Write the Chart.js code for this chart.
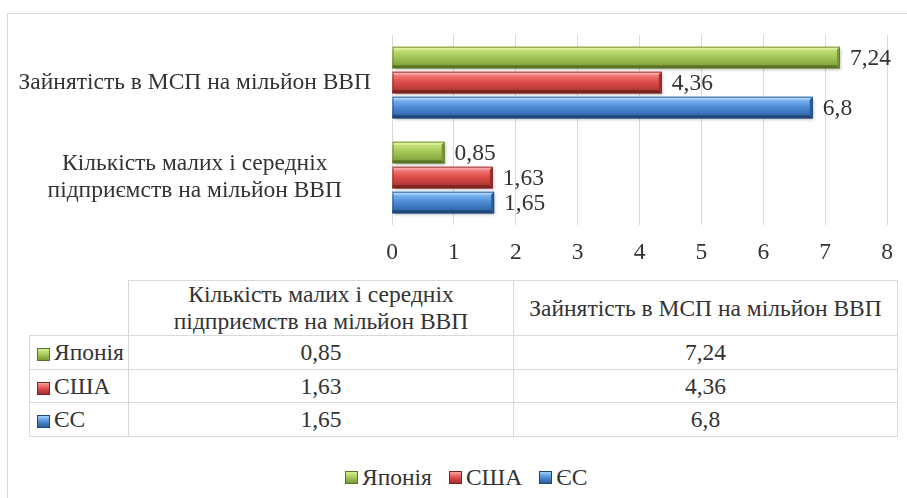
<!DOCTYPE html>
<html><head><meta charset="utf-8">
<script src="https://cdn.jsdelivr.net/npm/chart.js@4.4.1/dist/chart.umd.min.js"></script>
<style>
html,body{margin:0;padding:0;background:#fff;}
body{width:907px;height:498px;position:relative;overflow:hidden;font-family:'Liberation Serif';color:#333;}
#frame{position:absolute;left:7px;top:13px;width:960px;height:560px;border:1px solid #d9d9d9;box-sizing:border-box;}
#wrap{position:absolute;left:0;top:0;width:907px;height:275px;}
#tbl{position:absolute;left:29px;top:280px;border-collapse:collapse;table-layout:fixed;font-family:'Liberation Serif';font-size:23.5px;line-height:27px;}
#tbl td{border:1px solid #d9d9d9;padding:0;text-align:center;vertical-align:middle;white-space:nowrap;}
#tbl td.corner{border-top:none;border-left:none;}
#tbl td.rl{text-align:left;padding-left:7px;}
.key{display:inline-block;width:13px;height:13px;box-sizing:border-box;margin-right:4px;vertical-align:-1px;}
#legend{position:absolute;left:345px;top:463px;height:28px;display:flex;align-items:center;font-family:'Liberation Serif';font-size:23.5px;}
#legend .it{display:flex;align-items:center;margin-right:17px;}
</style></head>
<body>
<div id="frame"></div>
<div id="wrap"><canvas id="c" width="907" height="275"></canvas></div>
<table id="tbl"></table>
<div id="legend"></div>
<script>
// ---- data ----
const categories = ['Кількість малих і середніх підприємств на мільйон ВВП', 'Зайнятість в МСП на мільйон ВВП'];
const categoryLines = [['Кількість малих і середніх', 'підприємств на мільйон ВВП'], ['Зайнятість в МСП на мільйон ВВП']];
const seriesNames = ['Японія', 'США', 'ЄС'];
const japanValues = [0.85, 7.24];
const usaValues = [1.63, 4.36];
const euValues = [1.65, 6.8];
const xTickMin = 0, xTickMax = 8, xTickStep = 1;

const seriesValues = [japanValues, usaValues, euValues];
const palette = [
  {base:'#a2c456', top:'#dcf09a', light:'#bedc72', dark:'#7a9836', edge:'#5b7427'},
  {base:'#dc4a47', top:'#f6a5a2', light:'#ee7471', dark:'#a0302e', edge:'#7a2422'},
  {base:'#4b88d2', top:'#a6d0f8', light:'#72aeec', dark:'#2c5e9c', edge:'#214677'}
];
const FONT_FAMILY = 'Liberation Serif';
const FONT_SIZE = 23.5;
const fmt = v => String(v).replace('.', ',');
const displayOrder = [1, 0]; // top-to-bottom order of categories in the chart

function keyStyle(p){
  return `background:linear-gradient(to bottom,${p.top} 0%,${p.light} 25%,${p.base} 55%,${p.dark} 100%);border:1px solid ${p.edge};`;
}

// ---- table + legend ----
(function(){
  const t = document.getElementById('tbl');
  let h = '<colgroup><col style="width:99px"><col style="width:385px"><col style="width:384px"></colgroup>';
  h += '<tr style="height:54px"><td class="corner"></td>' + categoryLines.map(l => '<td>' + l.join('<br>') + '</td>').join('') + '</tr>';
  const rh = [34, 33, 34];
  seriesNames.forEach((n, k) => {
    h += `<tr style="height:${rh[k]}px"><td class="rl"><span class="key" style="${keyStyle(palette[k])}"></span>${n}</td>` +
      seriesValues[k].map(v => '<td>' + fmt(v) + '</td>').join('') + '</tr>';
  });
  t.innerHTML = h;
  const lg = document.getElementById('legend');
  lg.innerHTML = seriesNames.map((n, k) => `<span class="it"><span class="key" style="${keyStyle(palette[k])}"></span>${n}</span>`).join('');
})();

// ---- bevel + labels plugin ----
function poly(c, pts, col){
  c.beginPath(); c.moveTo(pts[0][0], pts[0][1]);
  for (let i = 1; i < pts.length; i++) c.lineTo(pts[i][0], pts[i][1]);
  c.closePath(); c.fillStyle = col; c.fill();
}
const bevelPlugin = {
  id: 'bevel',
  afterDatasetsDraw(chart){
    const c = chart.ctx;
    chart.data.datasets.forEach((ds, k) => {
      const meta = chart.getDatasetMeta(k);
      const p = palette[k];
      meta.data.forEach((el, i) => {
        const {x, y, base, height} = el.getProps(['x', 'y', 'base', 'height'], true);
        const x0 = Math.min(x, base), x1 = Math.max(x, base), y0 = y - height / 2, y1 = y + height / 2;
        const b = 3;
        c.save();
        c.shadowColor = 'rgba(0,0,0,0.30)'; c.shadowBlur = 3; c.shadowOffsetX = 1; c.shadowOffsetY = 2;
        const g = c.createLinearGradient(0, y0, 0, y1);
        g.addColorStop(0, p.top); g.addColorStop(0.2, p.light); g.addColorStop(0.5, p.base); g.addColorStop(1, p.dark);
        c.fillStyle = g; c.fillRect(x0, y0, x1 - x0, y1 - y0);
        c.shadowColor = 'transparent';
        poly(c, [[x0, y0], [x1, y0], [x1 - b, y0 + b], [x0, y0 + b]], p.top);
        poly(c, [[x0, y1], [x1, y1], [x1 - b, y1 - b], [x0, y1 - b]], p.edge);
        poly(c, [[x1, y0], [x1, y1], [x1 - b, y1 - b], [x1 - b, y0 + b]], p.dark);
        c.strokeStyle = p.edge; c.lineWidth = 1; c.globalAlpha = 0.7;
        c.strokeRect(x0 + 0.5, y0 + 0.5, x1 - x0 - 1, y1 - y0 - 1);
        c.restore();
        c.save();
        c.fillStyle = '#333'; c.font = FONT_SIZE + 'px ' + FONT_FAMILY; c.textBaseline = 'middle'; c.textAlign = 'left';
        c.fillText(fmt(ds.data[i]), x1 + 10, y + 1);
        c.restore();
      });
    });
  }
};

const font = {family: FONT_FAMILY, size: FONT_SIZE};
new Chart(document.getElementById('c'), {
  type: 'bar',
  data: {
    labels: displayOrder.map(i => categoryLines[i]),
    datasets: seriesNames.map((n, k) => ({
      label: n,
      data: displayOrder.map(i => seriesValues[k][i]),
      backgroundColor: palette[k].base,
      borderWidth: 0,
      categoryPercentage: 0.79,
      barPercentage: 0.86
    }))
  },
  options: {
    indexAxis: 'y',
    responsive: false,
    animation: false,
    devicePixelRatio: 1,
    layout: {padding: {left: 0, right: 20, top: 35, bottom: 0}},
    plugins: {legend: {display: false}, tooltip: {enabled: false}},
    scales: {
      x: {
        min: xTickMin, max: xTickMax,
        ticks: {stepSize: xTickStep, padding: 14, color: '#333', font: font},
        grid: {color: '#d9d9d9', drawTicks: false},
        border: {display: false},
        afterFit: s => { s.height = 50; s.paddingLeft = 0; s.paddingRight = 0; }
      },
      y: {
        ticks: {padding: 21, crossAlign: 'center', color: '#333', font: {family: FONT_FAMILY, size: FONT_SIZE, lineHeight: 1.15}},
        grid: {display: false, drawTicks: false},
        border: {display: false},
        afterFit: s => { s.width = 392; s.paddingTop = 0; s.paddingBottom = 0; }
      }
    }
  },
  plugins: [bevelPlugin]
});
</script>
</body></html>
